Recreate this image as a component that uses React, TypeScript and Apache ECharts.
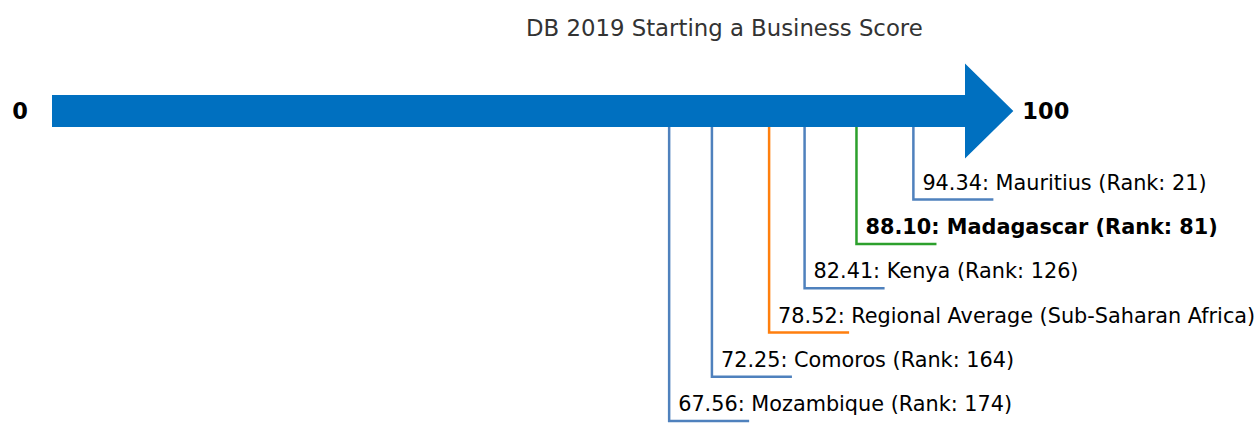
import React, { useEffect, useRef } from "react";
import * as echarts from "echarts";

const TITLE = "DB 2019 Starting a Business Score";
const names = ["Mauritius", "Madagascar", "Kenya", "Regional Average (Sub-Saharan Africa)", "Comoros", "Mozambique"];
const scores = [94.34, 88.1, 82.41, 78.52, 72.25, 67.56];
const ranks: (number | null)[] = [21, 81, 126, null, 164, 174];
const levels = [2, 3, 4, 5, 6, 7];
const kinds = ["other", "focus", "other", "regional", "other", "other"];
const scaleMin = 0;
const scaleMax = 100;
const arrowTip = 105.3;
const endLabels = ["0", "100"];

const kindColor: Record<string, string> = {
  other: "#4f81bd",
  focus: "#2ca02c",
  regional: "#ff7f0e",
};

const FONT = "DejaVu Sans";

export default function App() {
  const ref = useRef<HTMLDivElement>(null);
  useEffect(() => {
    if (!ref.current) return;
    const chart = echarts.init(ref.current, undefined, { renderer: "svg" });

    const labelData = scores.map((s, i) => [s, levels[i], i]);

    chart.setOption({
      animation: false,
      title: {
        text: TITLE,
        left: 521,
        top: 11,
        textStyle: { fontFamily: FONT, fontSize: 22.8, fontWeight: "normal", color: "#333" },
      },
      grid: { left: 53, right: 294, top: 22.4, height: 398.7 },
      xAxis: { type: "value", min: scaleMin, max: scaleMax, show: false },
      yAxis: { type: "value", min: -2, max: 7, inverse: true, show: false },
      series: [
        {
          type: "custom",
          clip: false,
          data: [[scaleMin, scaleMax, arrowTip]],
          renderItem: (params: any, api: any) => {
            const p0 = api.coord([api.value(0), 0]);
            const p1 = api.coord([api.value(1), 0]);
            const pt = api.coord([api.value(2), 0]);
            const cy = p0[1];
            const hb = 16;
            const hh = 47.5;
            return {
              type: "group",
              children: [
                {
                  type: "polygon",
                  shape: {
                    points: [
                      [p0[0] - 1, cy - hb],
                      [p1[0], cy - hb],
                      [p1[0], cy - hh],
                      [pt[0], cy],
                      [p1[0], cy + hh],
                      [p1[0], cy + hb],
                      [p0[0] - 1, cy + hb],
                    ],
                  },
                  style: { fill: "#0070c0" },
                },
                {
                  type: "text",
                  x: p0[0] - 33,
                  y: cy,
                  style: {
                    text: endLabels[0],
                    fill: "#000",
                    font: `bold 22.5px "${FONT}"`,
                    align: "center",
                    verticalAlign: "middle",
                  },
                },
                {
                  type: "text",
                  x: pt[0] + 9,
                  y: cy,
                  style: {
                    text: endLabels[1],
                    fill: "#000",
                    font: `bold 22.5px "${FONT}"`,
                    align: "left",
                    verticalAlign: "middle",
                  },
                },
              ],
            };
          },
        },
        {
          type: "custom",
          clip: false,
          data: labelData,
          renderItem: (params: any, api: any) => {
            const s = api.value(0);
            const lv = api.value(1);
            const i = api.value(2);
            const top = api.coord([s, 0]);
            const p = api.coord([s, lv]);
            const color = kindColor[kinds[i]];
            const rank = ranks[i];
            const txt = `${s.toFixed(2)}: ${names[i]}` + (rank != null ? ` (Rank: ${rank})` : "");
            return {
              type: "group",
              children: [
                {
                  type: "polyline",
                  shape: {
                    points: [
                      [p[0], top[1] + 16],
                      [p[0], p[1]],
                      [p[0] + 80, p[1]],
                    ],
                  },
                  style: { stroke: color, lineWidth: 2.5, fill: null },
                },
                {
                  type: "text",
                  x: p[0] + 9,
                  y: p[1] - 17,
                  style: {
                    text: txt,
                    fill: "#000",
                    font: `${kinds[i] === "focus" ? "bold " : ""}20.8px "${FONT}"`,
                    align: "left",
                    verticalAlign: "middle",
                  },
                },
              ],
            };
          },
        },
      ],
    });
    return () => chart.dispose();
  }, []);
  return (
    <div
      ref={ref}
      style={{ position: "fixed", left: 0, top: 0, width: 1259, height: 423, background: "#fff" }}
    />
  );
}
